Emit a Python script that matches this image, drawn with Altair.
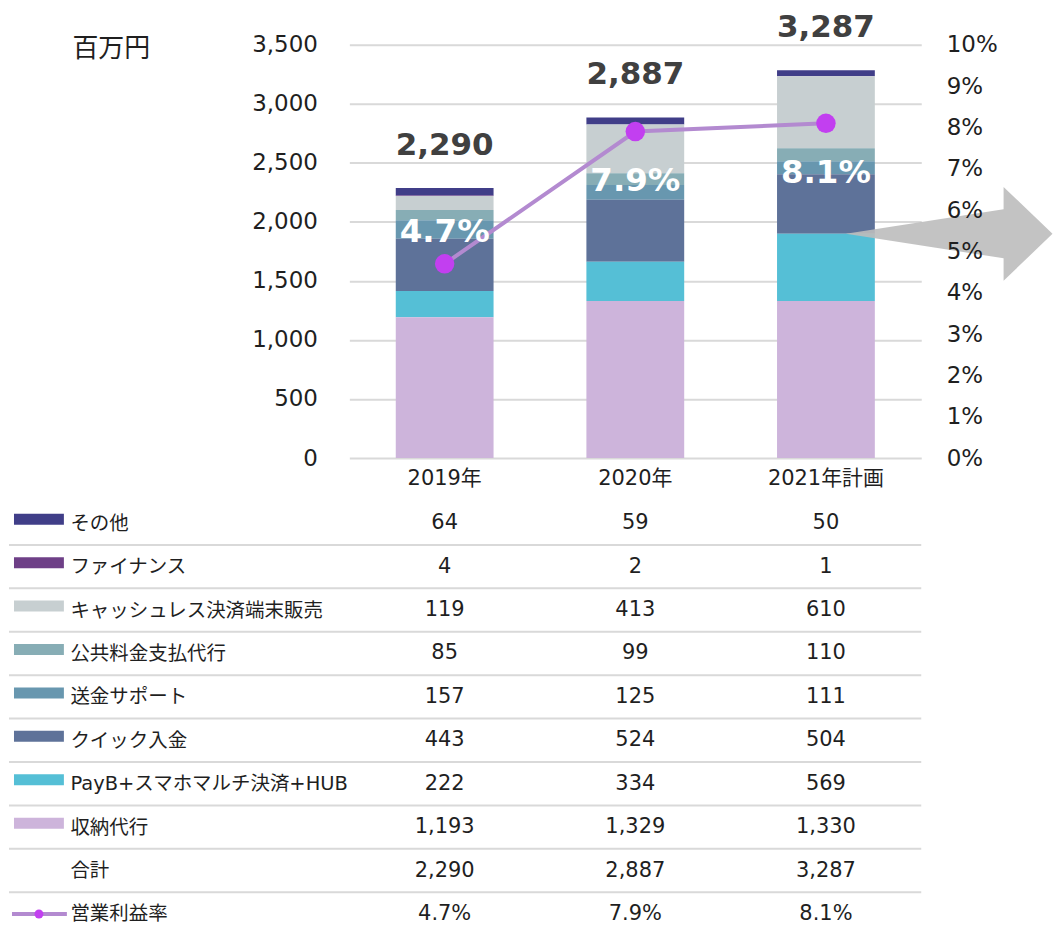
import altair as alt
import pandas as pd

FONT = "DejaVu Sans, Noto Sans CJK JP"

years = ["2019年", "2020年", "2021年計画"]
series = ["その他", "ファイナンス", "キャッシュレス決済端末販売", "公共料金支払代行",
          "送金サポート", "クイック入金", "PayB+スマホマルチ決済+HUB", "収納代行"]
colors = ["#403E88", "#6E3F87", "#C7CFD1", "#87ADB5", "#6897AF", "#5E7299", "#55BFD6", "#CDB4DB"]

other = [64, 59, 50]
finance = [4, 2, 1]
cashless = [119, 413, 610]
utility = [85, 99, 110]
remit = [157, 125, 111]
quick = [443, 524, 504]
payb = [222, 334, 569]
collection = [1193, 1329, 1330]
totals = [2290, 2887, 3287]
margin = [4.7, 7.9, 8.1]

left_ticks = [0, 500, 1000, 1500, 2000, 2500, 3000, 3500]
right_ticks = [0, 1, 2, 3, 4, 5, 6, 7, 8, 9, 10]
total_row = "合計"
margin_row = "営業利益率"

values = [other, finance, cashless, utility, remit, quick, payb, collection]
n = len(series)

bar_df = pd.DataFrame([
    {"year": y, "series": s, "value": v[i], "order": n - k}
    for k, (s, v) in enumerate(zip(series, values))
    for i, y in enumerate(years)
])
tot_df = pd.DataFrame({"year": years, "value": totals, "label": [f"{t:,}" for t in totals]})
arrow_df = pd.DataFrame({"year": [years[2]], "value": [collection[2] + payb[2]]})
mar_df = pd.DataFrame({"year": years, "margin": margin, "label": [f"{m:.1f}%" for m in margin]})

W = 573
H = 414
TXT = "#1F1F1F"

xscale = alt.Scale(domain=years, paddingInner=0.487, paddingOuter=0.2435)
x_top = alt.X("year:N", scale=xscale, sort=years,
              axis=alt.Axis(title=None, labelAngle=0, labelFontSize=21, labelPadding=10,
                            domain=False, ticks=False, grid=False, labelColor=TXT, labelFont=FONT))
lscale = alt.Scale(domain=[0, 3500], nice=False, zero=True)
laxis = alt.Axis(values=left_ticks, format=",.0f", labelFontSize=23, labelPadding=32, labelColor=TXT,
                 labelFont=FONT, domain=False, ticks=False, grid=True, gridColor="#D9D9D9",
                 gridWidth=2, title="百万円", titleAngle=0, titleAlign="left",
                 titleBaseline="middle", titleX=-278, titleY=4, titleFontSize=26,
                 titleFontWeight="normal", titleColor=TXT, titleFont=FONT)
color = alt.Color("series:N", scale=alt.Scale(domain=series, range=colors), legend=None)

bars = alt.Chart(bar_df).mark_bar().encode(
    x=x_top,
    y=alt.Y("value:Q", stack="zero", scale=lscale, axis=laxis),
    color=color,
    order=alt.Order("order:Q", sort="ascending"),
)

arrow = alt.Chart(arrow_df).mark_point(
    shape="M0.2,0L1.78,-0.245L1.78,-0.47L2.27,0L1.78,0.47L1.78,0.245Z",
    size=40000, filled=True, fill="#BDBDBD", opacity=0.9, strokeWidth=0,
).encode(x=x_top, y=alt.Y("value:Q", stack=None, scale=lscale, axis=laxis))

tot_text = alt.Chart(tot_df).mark_text(
    dy=-42, fontSize=31, fontWeight="bold", color="#404040", font=FONT, baseline="middle"
).encode(x=x_top, y=alt.Y("value:Q", stack=None, scale=lscale, axis=laxis), text="label:N")

rscale = alt.Scale(domain=[0, 10], nice=False)
raxis = alt.Axis(orient="right", values=right_ticks, labelExpr="datum.value + '%'",
                 labelFontSize=23, labelPadding=25, labelColor=TXT, labelFont=FONT,
                 domain=False, ticks=False, grid=False, title=None, zindex=1)
y_right = alt.Y("margin:Q", scale=rscale, axis=raxis)

line = alt.Chart(mar_df).mark_line(color="#B38AD0", strokeWidth=4).encode(x=x_top, y=y_right)
pts = alt.Chart(mar_df).mark_circle(size=380, color="#C23FF0", opacity=1).encode(x=x_top, y=y_right)
lab1 = alt.Chart(mar_df).transform_filter(alt.datum.year == years[0]).mark_text(
    dy=-32, fontSize=32.5, fontWeight="bold", color="white", font=FONT, baseline="middle"
).encode(x=x_top, y=y_right, text="label:N")
lab2 = alt.Chart(mar_df).transform_filter(alt.datum.year != years[0]).mark_text(
    dy=50, fontSize=32.5, fontWeight="bold", color="white", font=FONT, baseline="middle"
).encode(x=x_top, y=y_right, text="label:N")

top = alt.layer(
    alt.layer(bars, arrow, tot_text),
    alt.layer(line, pts, lab1, lab2),
).resolve_scale(y="independent").properties(width=W, height=H)

# ---- table ----
rows = series + [total_row, margin_row]
trows = []
for s, v in zip(series, values):
    for i, y in enumerate(years):
        trows.append({"row": s, "year": y, "text": f"{v[i]:,}"})
for i, y in enumerate(years):
    trows.append({"row": total_row, "year": y, "text": f"{totals[i]:,}"})
for i, y in enumerate(years):
    trows.append({"row": margin_row, "year": y, "text": f"{margin[i]:.1f}%"})
tdf = pd.DataFrame(trows)

step = 43.5
HT = step * (len(rows) - 1 + 0.2)
tyscale = alt.Scale(type="point", domain=rows, padding=0.1)
ty = alt.Y("row:N", scale=tyscale, sort=rows,
           axis=alt.Axis(title=None, labelAlign="left", labelPadding=280, labelFontSize=19.5,
                         labelLimit=400, domain=False, ticks=False, grid=False,
                         labelColor=TXT, labelFont=FONT))
tx = alt.X("year:N", scale=xscale, sort=years, axis=None)

cells = alt.Chart(tdf).mark_text(fontSize=21, font=FONT, color=TXT, baseline="middle").encode(
    x=tx, y=ty, text="text:N")

sw_df = pd.DataFrame({"row": series, "series": series})
swatch = alt.Chart(sw_df).mark_rule(strokeWidth=11, yOffset=-4).encode(
    x=alt.value(-336), x2=alt.value(-286), y=ty, color=color)

m_df = pd.DataFrame({"row": [margin_row]})
m_line = alt.Chart(m_df).mark_rule(strokeWidth=4, color="#B38AD0").encode(
    x=alt.value(-338), x2=alt.value(-283), y=ty)
m_dot = alt.Chart(m_df).mark_circle(size=80, color="#C23FF0", opacity=1).encode(
    x=alt.value(-311), y=ty)

sep_df = pd.DataFrame({"row": rows[:-1]})
seps = alt.Chart(sep_df).mark_rule(strokeWidth=2, color="#D9D9D9", yOffset=step / 2).encode(
    x=alt.value(-341), x2=alt.value(W), y=ty)

table = alt.layer(seps, swatch, m_line, m_dot, cells).properties(width=W, height=HT)

chart = (
    alt.vconcat(top, table, spacing=23)
    .properties(padding={"left": 0, "top": 3, "right": 0, "bottom": 0})
    .configure(font=FONT)
    .configure_view(stroke=None)
)

chart.save("out.html", embed_options={"renderer": "svg", "actions": False})
